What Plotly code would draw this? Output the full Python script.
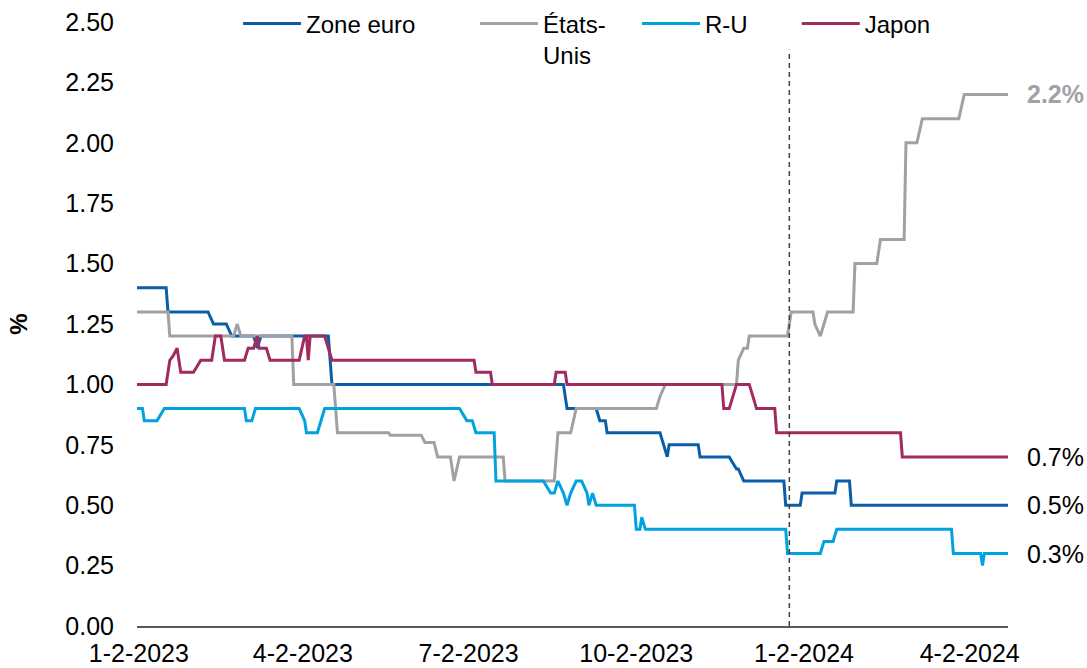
import plotly.graph_objects as go

# ---------------- data ----------------
euro_dates = ["2023-01-01", "2023-01-17", "2023-01-18", "2023-02-09", "2023-02-12", "2023-02-19",
              "2023-02-22", "2023-03-06", "2023-03-08", "2023-03-10", "2023-04-16", "2023-04-18",
              "2023-08-23", "2023-08-25", "2023-09-10", "2023-09-12", "2023-09-15", "2023-09-16",
              "2023-10-15", "2023-10-19", "2023-10-20", "2023-11-05", "2023-11-06", "2023-11-22",
              "2023-11-26", "2023-11-27", "2023-11-30", "2023-12-22", "2023-12-23", "2023-12-31",
              "2024-01-01", "2024-01-19", "2024-01-20", "2024-01-27", "2024-01-28", "2024-04-23"]
euro_values = [1.40, 1.40, 1.30, 1.30, 1.25, 1.25,
               1.20, 1.20, 1.15, 1.20, 1.20, 1.00,
               1.00, 0.90, 0.90, 0.85, 0.85, 0.80,
               0.80, 0.70, 0.75, 0.75, 0.70, 0.70,
               0.65, 0.65, 0.60, 0.60, 0.50, 0.50,
               0.55, 0.55, 0.60, 0.60, 0.50, 0.50]

us_dates = ["2023-01-01", "2023-01-18", "2023-01-19", "2023-02-23", "2023-02-25", "2023-02-27",
            "2023-03-27", "2023-03-28", "2023-04-19", "2023-04-21", "2023-05-19", "2023-05-20",
            "2023-06-06", "2023-06-08", "2023-06-13", "2023-06-15", "2023-06-22", "2023-06-24",
            "2023-06-27", "2023-07-21", "2023-07-22", "2023-08-18", "2023-08-20", "2023-08-27",
            "2023-08-30", "2023-10-13", "2023-10-15", "2023-10-18", "2023-11-26", "2023-11-27",
            "2023-11-30", "2023-12-02", "2023-12-03", "2023-12-24", "2023-12-26", "2024-01-07",
            "2024-01-08", "2024-01-11", "2024-01-13", "2024-01-15", "2024-01-29", "2024-01-30",
            "2024-02-11", "2024-02-12", "2024-02-13", "2024-02-26", "2024-02-27", "2024-03-04",
            "2024-03-07", "2024-03-27", "2024-03-30", "2024-04-23"]
us_values = [1.30, 1.30, 1.20, 1.20, 1.25, 1.20,
             1.20, 1.00, 1.00, 0.80, 0.80, 0.79,
             0.79, 0.76, 0.76, 0.70, 0.70, 0.60,
             0.70, 0.70, 0.60, 0.60, 0.80, 0.80,
             0.90, 0.90, 0.95, 1.00, 1.00, 1.10,
             1.15, 1.15, 1.20, 1.20, 1.30, 1.30,
             1.25, 1.20, 1.25, 1.30, 1.30, 1.50,
             1.50, 1.55, 1.60, 1.60, 2.00, 2.00,
             2.10, 2.10, 2.20, 2.20]

uk_dates = ["2023-01-01", "2023-01-04", "2023-01-05", "2023-01-12", "2023-01-16", "2023-03-01",
            "2023-03-02", "2023-03-05", "2023-03-07", "2023-03-31", "2023-04-03", "2023-04-04",
            "2023-04-10", "2023-04-12", "2023-04-14", "2023-06-27", "2023-07-01", "2023-07-04",
            "2023-07-06", "2023-07-16", "2023-07-17", "2023-08-12", "2023-08-16", "2023-08-18",
            "2023-08-20", "2023-08-23", "2023-08-25", "2023-08-27", "2023-08-30", "2023-09-02",
            "2023-09-05", "2023-09-06", "2023-09-08", "2023-09-10", "2023-10-01", "2023-10-02",
            "2023-10-04", "2023-10-05", "2023-10-07", "2023-12-23", "2023-12-24", "2024-01-11",
            "2024-01-13", "2024-01-18", "2024-01-20", "2024-03-23", "2024-03-24", "2024-04-08",
            "2024-04-09", "2024-04-10", "2024-04-23"]
uk_values = [0.90, 0.90, 0.85, 0.85, 0.90, 0.90,
             0.85, 0.85, 0.90, 0.90, 0.85, 0.80,
             0.80, 0.85, 0.90, 0.90, 0.85, 0.85,
             0.80, 0.80, 0.60, 0.60, 0.55, 0.55,
             0.60, 0.55, 0.50, 0.55, 0.60, 0.60,
             0.55, 0.50, 0.55, 0.50, 0.50, 0.40,
             0.40, 0.45, 0.40, 0.40, 0.30, 0.30,
             0.35, 0.35, 0.40, 0.40, 0.30, 0.30,
             0.25, 0.30, 0.30]

jp_dates = ["2023-01-01", "2023-01-17", "2023-01-19", "2023-01-21", "2023-01-23", "2023-01-25",
            "2023-02-01", "2023-02-05", "2023-02-11", "2023-02-13", "2023-02-16", "2023-02-18",
            "2023-03-01", "2023-03-03", "2023-03-06", "2023-03-08", "2023-03-09", "2023-03-13",
            "2023-03-15", "2023-03-31", "2023-04-03", "2023-04-04", "2023-04-05", "2023-04-06",
            "2023-04-14", "2023-04-18", "2023-07-05", "2023-07-06", "2023-07-14", "2023-07-15",
            "2023-08-18", "2023-08-19", "2023-08-24", "2023-08-25", "2023-11-18", "2023-11-19",
            "2023-11-22", "2023-11-26", "2023-12-03", "2023-12-05", "2023-12-07", "2023-12-17",
            "2023-12-18", "2024-02-24", "2024-02-25", "2024-04-23"]
jp_values = [1.00, 1.00, 1.10, 1.12, 1.15, 1.05,
             1.05, 1.10, 1.10, 1.20, 1.20, 1.10,
             1.10, 1.15, 1.15, 1.20, 1.15, 1.15,
             1.10, 1.10, 1.20, 1.20, 1.10, 1.20,
             1.20, 1.10, 1.10, 1.05, 1.05, 1.00,
             1.00, 1.05, 1.05, 1.00, 1.00, 0.90,
             0.90, 1.00, 1.00, 0.95, 0.90, 0.90,
             0.80, 0.80, 0.70, 0.70]

series_names = ["Zone euro", "États-<br>Unis", "R-U", "Japon"]
series_colors = ["#0A5EA8", "#A0A1A6", "#00A3E0", "#A12A5E"]

tick_dates = ["2023-01-02", "2023-04-02", "2023-07-02", "2023-10-02", "2024-01-02", "2024-04-02"]
tick_labels = ["1-2-2023", "4-2-2023", "7-2-2023", "10-2-2023", "1-2-2024", "4-2-2024"]
y_ticks = [0, 0.25, 0.5, 0.75, 1.0, 1.25, 1.5, 1.75, 2.0, 2.25, 2.5]
marker_date = "2023-12-25"

# ---------------- figure ----------------
FONT = "Arial, 'Liberation Sans', sans-serif"
fig = go.Figure()
all_series = [(euro_dates, euro_values), (us_dates, us_values), (uk_dates, uk_values), (jp_dates, jp_values)]
legend_ids = ["legend", "legend2", "legend3", "legend4"]
for (xs, ys), name, col, lg in zip(all_series, series_names, series_colors, legend_ids):
    fig.add_trace(go.Scatter(x=xs, y=ys, mode="lines", name=name, legend=lg,
                             line=dict(color=col, width=3)))

# end labels
label_styles = [("#000000", False), ("#A0A1A6", True), ("#000000", False), ("#000000", False)]
for (xs, ys), (col, bold) in zip(all_series, label_styles):
    txt = f"{ys[-1]:.1f}%"
    if bold:
        txt = f"<b>{txt}</b>"
    fig.add_annotation(x=xs[-1], y=ys[-1], text=txt, showarrow=False, xanchor="left",
                       yanchor="middle", xshift=17, font=dict(family=FONT, size=25, color=col))

fig.add_shape(type="line", x0=marker_date, x1=marker_date, xref="x", yref="paper",
              y0=0, y1=0.954, line=dict(color="#404040", width=1.5, dash="5px,4px"))

legend_x = [0.219, 0.437, 0.586, 0.733]
legend_common = dict(orientation="h", xref="container", yref="container", y=0.998,
                     xanchor="left", yanchor="top", valign="top", itemwidth=58,
                     bgcolor="rgba(0,0,0,0)", borderwidth=0,
                     font=dict(family=FONT, size=24, color="#000000"))
legend_layout = {lg: dict(x=lx, **legend_common) for lg, lx in zip(legend_ids, legend_x)}

fig.update_layout(
    width=1087, height=668,
    margin=dict(l=137, r=79, t=22, b=42, autoexpand=False),
    paper_bgcolor="white", plot_bgcolor="white",
    font=dict(family=FONT, size=25, color="#000000"),
    showlegend=True,
    xaxis=dict(type="date", range=[euro_dates[0], euro_dates[-1]], tickmode="array",
               tickvals=tick_dates, ticktext=tick_labels, showgrid=False, zeroline=False,
               showline=True, linecolor="#595959", linewidth=1.5, ticks="", automargin=False,
               ticklabelstandoff=4, tickfont=dict(family=FONT, size=25, color="#000000")),
    yaxis=dict(range=[0, 2.5], tickmode="array", tickvals=y_ticks, tickformat=".2f",
               showgrid=False, zeroline=False, showline=False, ticks="", automargin=False,
               ticklabelstandoff=22, tickfont=dict(family=FONT, size=25, color="#000000"),
               title=dict(text="<b>%</b>", standoff=30, font=dict(family=FONT, size=24, color="#000000"))),
    **legend_layout,
)

fig.write_html("out.html", config={"displayModeBar": False},
               post_script="document.body.style.margin='0px';")
